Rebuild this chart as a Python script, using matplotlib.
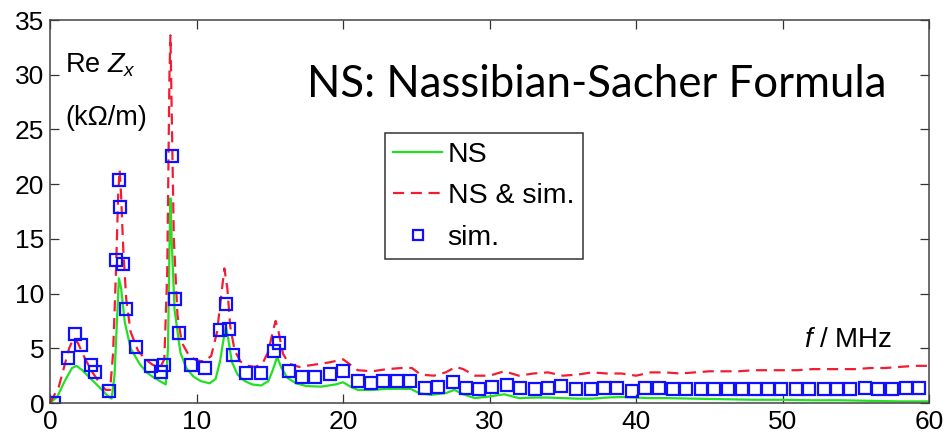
import matplotlib
matplotlib.use('Agg')
import matplotlib.pyplot as plt

# NS (Nassibian-Sacher formula), green solid line
ns_f = [0, 0.5, 1.0, 1.5, 1.8, 2.2, 2.8, 3.4, 3.9, 4.2, 4.4, 4.55, 4.7, 4.85, 5.1, 5.5,
        6.1, 6.6, 7.0, 7.5, 7.9, 8.05, 8.15, 8.22, 8.3, 8.5, 8.9, 9.3, 9.8, 10.3, 10.9,
        11.3, 11.6, 11.9, 12.0, 12.15, 12.4, 12.8, 13.3, 13.8, 14.4, 14.9, 15.2, 15.5,
        15.8, 16.2, 16.8, 17.5, 18.5, 19.5, 20.0, 20.5, 21.0, 22.0, 23.0, 24.0, 24.6,
        25.2, 26.0, 27.0, 27.6, 28.2, 29.0, 30.0, 31.0, 32.0, 33.0, 34.0, 35.0, 36.0,
        37.0, 38.0, 39.0, 40.0, 41.0, 42.0, 44.0, 46.0, 48.0, 50.0, 52.0, 54.0, 56.0,
        58.0, 60.0]
ns_z = [0, 0.6, 2.0, 3.2, 3.4, 3.0, 2.2, 1.4, 0.7, 0.4, 2.5, 7.0, 11.4, 10.5, 7.4, 5.0,
        3.6, 2.8, 2.4, 2.0, 1.7, 5.0, 14.0, 18.7, 15.0, 8.5, 4.6, 3.2, 2.4, 2.0, 1.8,
        2.2, 3.8, 6.3, 7.0, 6.0, 3.8, 2.6, 2.0, 1.7, 1.6, 2.0, 3.0, 4.2,
        3.2, 2.3, 1.8, 1.55, 1.5, 1.7, 1.9, 1.5, 1.2, 1.2, 1.3, 1.3, 1.3,
        0.9, 0.75, 0.9, 1.2, 0.8, 0.45, 0.6, 0.8, 0.45, 0.5, 0.5, 0.45, 0.4,
        0.4, 0.5, 0.55, 0.5, 0.45, 0.45, 0.4, 0.35, 0.3, 0.3, 0.25, 0.25, 0.2,
        0.15, 0.15]

# NS & sim., red dashed line
nss_f = [0, 0.6, 1.0, 1.3, 1.6, 1.9, 2.3, 2.8, 3.3, 3.8, 4.1, 4.3, 4.5, 4.65, 4.75, 4.85,
         5.0, 5.2, 5.5, 6.0, 6.5, 7.0, 7.5, 7.8, 8.0, 8.15, 8.22, 8.3, 8.45, 8.7, 9.0,
         9.5, 10.0, 10.5, 11.0, 11.4, 11.7, 11.9, 12.1, 12.3, 12.6, 13.0, 13.5, 14.0,
         14.5, 14.9, 15.2, 15.4, 15.6, 15.9, 16.3, 17.0, 18.0, 19.0, 19.7, 20.0, 20.3,
         21.0, 22.0, 23.0, 24.0, 24.7, 25.3, 26.2, 27.0, 27.7, 28.2, 29.0, 30.0, 31.0,
         32.0, 33.0, 34.0, 35.0, 36.0, 37.0, 38.0, 39.0, 40.0, 41.0, 42.0, 43.0, 44.0,
         45.0, 46.0, 47.0, 48.0, 49.0, 50.0, 51.0, 52.0, 53.0, 54.0, 55.0, 56.0, 57.0,
         58.0, 59.0, 60.0]
nss_z = [0, 1.5, 3.5, 5.0, 5.9, 5.5, 4.3, 3.0, 2.0, 1.2, 1.2, 4.5, 12.0, 19.0, 21.3, 19.0,
         14.0, 9.5, 6.5, 4.8, 4.0, 3.5, 3.2, 4.0, 12.0, 30.0, 33.6, 27.0, 15.0, 8.0, 5.5,
         4.3, 3.9, 3.8, 4.3, 6.5, 10.0, 12.3, 10.5, 7.0, 4.8, 3.8, 3.4, 3.3,
         3.6, 4.7, 6.5, 7.5, 6.5, 4.5, 3.6, 3.3, 3.5, 3.7, 3.9, 4.0, 3.7,
         3.0, 2.9, 3.1, 3.2, 3.2, 2.6, 2.5, 2.8, 3.3, 3.1, 2.5, 2.5, 2.9,
         2.5, 2.7, 2.8, 2.5, 2.6, 2.8, 2.7, 2.7, 2.5, 2.8, 2.8, 2.7, 2.8,
         2.9, 2.9, 2.9, 3.0, 3.0, 3.0, 3.0, 3.1, 3.1, 3.1, 3.1, 3.2, 3.2,
         3.3, 3.4, 3.4]

# sim., blue squares
sim_f = [0.3, 1.2, 1.7, 2.1, 2.8, 3.1, 4.0, 4.5, 4.7, 4.8, 4.96, 5.2, 5.9, 6.9, 7.6, 7.8,
         8.3, 8.5, 8.8, 9.6, 10.6, 11.6, 12.0, 12.2, 12.5, 13.4, 14.4, 15.3, 15.6, 16.3,
         17.2, 18.1, 19.1, 20.0, 21.0, 21.9, 22.75, 23.7, 24.6, 25.6, 26.5, 27.5, 28.4,
         29.3, 30.2, 31.2, 32.1, 33.1, 34.0, 34.9, 35.9, 36.9, 37.8, 38.7, 39.7, 40.6,
         41.6, 42.5, 43.4, 44.4, 45.3, 46.3, 47.2, 48.1, 49.0, 49.9, 50.9, 51.8, 52.8,
         53.7, 54.6, 55.6, 56.5, 57.5, 58.4, 59.3]
sim_z = [0, 4.1, 6.3, 5.3, 3.5, 2.8, 1.1, 13.1, 20.4, 17.9, 12.7, 8.6, 5.1, 3.4, 2.8, 3.5,
         22.6, 9.5, 6.4, 3.5, 3.2, 6.7, 9.05, 6.8, 4.4, 2.7, 2.7, 4.8, 5.5, 2.9,
         2.4, 2.4, 2.65, 2.95, 2.0, 1.85, 2.05, 2.05, 2.05, 1.4, 1.5, 1.95, 1.4,
         1.25, 1.5, 1.65, 1.35, 1.25, 1.4, 1.55, 1.25, 1.25, 1.35, 1.35, 1.1, 1.35,
         1.4, 1.25, 1.25, 1.25, 1.25, 1.25, 1.25, 1.25, 1.25, 1.25, 1.25, 1.25, 1.25,
         1.25, 1.25, 1.4, 1.25, 1.25, 1.4, 1.4]

plt.rcParams['font.family'] = ['Liberation Sans', 'DejaVu Sans']
plt.rcParams['mathtext.fontset'] = 'custom'
plt.rcParams['mathtext.rm'] = 'Liberation Sans'
plt.rcParams['mathtext.it'] = 'Liberation Sans:italic'

fig = plt.figure(figsize=(9.46, 4.4), dpi=100)
ax = fig.add_axes([0.0529, 0.084, 0.9292, 0.8705])

ax.plot(ns_f, ns_z, color='#22e022', lw=1.6, label='NS')
ax.plot(nss_f, nss_z, color='#f41c34', lw=1.6, ls=(0, (5, 3)), label='NS & sim.')
ax.plot(sim_f, sim_z, ls='none', marker='s', ms=8.5, mfc='none', mec='#1010ff', mew=1.6,
        label='sim.')

ax.set_xlim(0, 60)
ax.set_ylim(0, 35)
ax.set_xticks(range(0, 61, 10))
ax.set_yticks(range(0, 36, 5))
ax.tick_params(direction='in', length=6.5, width=0.9, labelsize=19, colors='#333333',
               labelcolor='black', top=True, right=True)
ax.tick_params(axis='x', pad=5)
ax.tick_params(axis='y', pad=4)
for s in ax.spines.values():
    s.set_color('#444444')
    s.set_linewidth(1.1)

ax.text(0.017, 0.862, r'Re $Z_x$', transform=ax.transAxes, fontsize=19.5, va='baseline')
ax.text(0.017, 0.727, '(k\u03a9/m)', transform=ax.transAxes, fontsize=19.5, va='baseline')
ax.text(0.958, 0.147, r'$f$ / MHz', transform=ax.transAxes, fontsize=20, ha='right',
        va='baseline')
ax.text(0.292, 0.80, 'NS: Nassibian-Sacher Formula', transform=ax.transAxes,
        fontsize=31.5, family='Lato', va='baseline')

leg = ax.legend(loc='upper left', bbox_to_anchor=(0.381, 0.705), fontsize=20.5,
                frameon=True, fancybox=False, framealpha=1, edgecolor='#333333',
                handlelength=1.7, handletextpad=0.2, labelspacing=0.55,
                borderpad=0.3, borderaxespad=0, markerscale=0.85)
leg.get_frame().set_linewidth(1.1)

fig.savefig('out.png', dpi=100)
